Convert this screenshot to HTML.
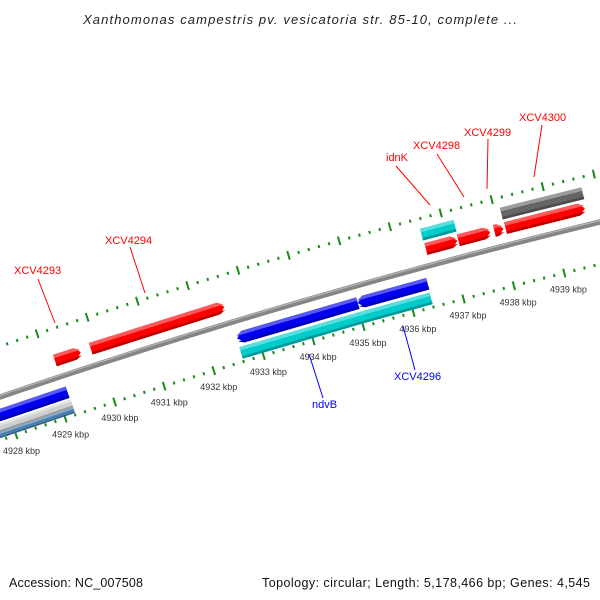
<!DOCTYPE html>
<html><head><meta charset="utf-8"><style>
html,body{margin:0;padding:0;background:#fff;}
svg{display:block;font-family:"Liberation Sans",sans-serif;}
</style></head><body>
<svg id="map" width="600" height="600" viewBox="0 0 600 600" xmlns="http://www.w3.org/2000/svg">
<text x="300" y="24" text-anchor="middle" font-size="13" font-style="italic" fill="#222" textLength="434">Xanthomonas campestris pv. vesicatoria str. 85-10, complete ...</text>
<g id="backbone"></g>
<g id="rulers"></g>
<g id="genes"></g>
<g id="labels"></g>
<text x="9" y="587" font-size="12.5" fill="#111" textLength="134">Accession: NC_007508</text>
<text x="262" y="587" font-size="12.5" fill="#111" textLength="328">Topology: circular; Length: 5,178,466 bp; Genes: 4,545</text>
</svg>
<script>
// ---- data ----
const geneNames  = ['XCV4293','XCV4294','idnK','XCV4298','XCV4299','XCV4300','cyan-f1','gray-f1','blue-r0','ndvB','XCV4296','cyan-r1','cyan-r2','lgray-r','steel-r'];
const geneStart  = [4929.16,4929.88,4936.55,4937.19,4937.90,4938.12,4936.54,4938.11,4927.50,4932.61,4935.02,4932.60,4935.03,4927.50,4927.50];
const geneEnd    = [4929.68,4932.55,4937.17,4937.82,4938.08,4939.68,4937.20,4939.71,4929.20,4935.02,4936.41,4935.03,4936.40,4929.21,4929.21];
const geneTrack  = [-17,-17,-17,-17,-17,-17,-32,-32,17,17,17,32,32,29,36];
const geneStrand = [1,1,1,1,1,1,0,0,-1,-1,-1,0,0,0,0];
const geneColor  = ['#ff0000','#ff0000','#ff0000','#ff0000','#ff0000','#ff0000','#00cccc','#666666','#0000ee','#0000ee','#0000ee','#00cccc','#00cccc','#cfcfcf','#4a80b0'];
const tickLabels = ['4928 kbp','4929 kbp','4930 kbp','4931 kbp','4932 kbp','4933 kbp','4934 kbp','4935 kbp','4936 kbp','4937 kbp','4938 kbp','4939 kbp'];
const tickValues = [4928,4929,4930,4931,4932,4933,4934,4935,4936,4937,4938,4939];

// ---- geometry: circle through backbone points ----
const NS='http://www.w3.org/2000/svg';
const A=[0,397],B=[300,302],Cc=[600,222];
function circum(a,b,c){
  const d=2*(a[0]*(b[1]-c[1])+b[0]*(c[1]-a[1])+c[0]*(a[1]-b[1]));
  const ux=((a[0]**2+a[1]**2)*(b[1]-c[1])+(b[0]**2+b[1]**2)*(c[1]-a[1])+(c[0]**2+c[1]**2)*(a[1]-b[1]))/d;
  const uy=((a[0]**2+a[1]**2)*(c[0]-b[0])+(b[0]**2+b[1]**2)*(a[0]-c[0])+(c[0]**2+c[1]**2)*(b[0]-a[0]))/d;
  return [ux,uy];
}
const C=circum(A,B,Cc);
const R=Math.hypot(B[0]-C[0],B[1]-C[1]);
const phiB=Math.atan2(B[1]-C[1],B[0]-C[0]);
const phiE=Math.atan2(Cc[1]-C[1],Cc[0]-C[0]);
const dir=Math.sign(phiE-phiB);
const pxPerKbp=52.3;
const phi0=phiB+dir*(2/R);
function P(k,t){const f=phi0+dir*(k-4934)*pxPerKbp/R;const r=R-t;return [C[0]+r*Math.cos(f),C[1]+r*Math.sin(f)];}
const kOfPx=px=>px/pxPerKbp;
function mk(tag,attrs,parent){const e=document.createElementNS(NS,tag);for(const k in attrs)e.setAttribute(k,attrs[k]);parent.appendChild(e);return e;}
function pts(arr){return arr.map(p=>p[0].toFixed(2)+','+p[1].toFixed(2)).join(' ');}
function arcPath(k1,k2,t){let d='';const n=40;for(let i=0;i<=n;i++){const p=P(k1+(k2-k1)*i/n,t);d+=(i?'L':'M')+p[0].toFixed(2)+' '+p[1].toFixed(2);}return d;}

// backbone
const bb=document.getElementById('backbone');
const bl=mk('path',{d:arcPath(4927,4941,0),stroke:'#858585','stroke-width':5.5,fill:'none'},bb);


const bh=mk('path',{d:arcPath(4927,4941,-1.5),stroke:'#b0b0b0','stroke-width':1.5,fill:'none'},bb);



// rulers
const rg=document.getElementById('rulers');
[-48,41].forEach(tr=>{
  for(let i=0;i<=70;i++){
    const k=4927+i*0.2;const major=Math.abs(k-Math.round(k))<1e-6;
    const L=major?4.5:1.5;
    const p1=P(k,tr-L),p2=P(k,tr+L);
    const ln=mk('line',{x1:p1[0],y1:p1[1],x2:p2[0],y2:p2[1],stroke:'#1a8a1a','stroke-width':2},rg);
    
    
  }
});
tickValues.forEach((k,i)=>{
  const p=P(k,58);
  const tx=mk('text',{x:p[0].toFixed(1),y:(p[1]+3).toFixed(1),'text-anchor':'middle','font-size':9,fill:'#333'},rg);
  tx.textContent=tickLabels[i];
  
  
});

// genes
const gg=document.getElementById('genes');
function shade(hex,f){const n=parseInt(hex.slice(1),16);let r=n>>16,g=(n>>8)&255,b=n&255;
  const m=c=>f>0?Math.round(c+(255-c)*f):Math.round(c*(1+f));
  return 'rgb('+m(r)+','+m(g)+','+m(b)+')';}
geneNames.forEach((nm,i)=>{
  const k1=geneStart[i],k2=geneEnd[i],t=geneTrack[i],st=geneStrand[i],col=geneColor[i];
  const h=(i>=13)?(i===13?8:6):12;
  const a=kOfPx(st?6:0);
  const poly=(ta,tb)=>{
    if(st===1)return [P(k1,ta),P(Math.max(k1,k2-a),ta),P(k2,Math.max(ta,Math.min(tb,t))),P(Math.max(k1,k2-a),tb),P(k1,tb)];
    if(st===-1)return [P(k2,ta),P(Math.min(k2,k1+a),ta),P(k1,Math.max(ta,Math.min(tb,t))),P(Math.min(k2,k1+a),tb),P(k2,tb)];
    return [P(k1,ta),P(k2,ta),P(k2,tb),P(k1,tb)];
  };
  const g=mk('g',{},gg);
  
  
  mk('polygon',{points:pts(poly(t-h/2,t+h/2)),fill:col},g);
  mk('polygon',{points:pts(poly(t-h/2,t-h/2+h*0.3)),fill:shade(col,0.35)},g);
  mk('polygon',{points:pts(poly(t+h/2-h*0.22,t+h/2)),fill:shade(col,-0.25)},g);
});

// labels
const labText=['XCV4293','XCV4294','idnK','XCV4298','XCV4299','XCV4300','ndvB','XCV4296'];
const labColor=['#ff0000','#ff0000','#ff0000','#ff0000','#ff0000','#ff0000','#0000ff','#0000ff'];
const labPos=[[14,274],[105,244],[386,161],[413,149],[464,136],[519,121],[312,408],[394,380]];
const labLine=[[38,279,55,323],[130,247,145,293],[396,166,430,205],[437,154,464,197],[488,139,487,189],[542,125,534,177],[323,398,309,354],[415,370,403,326]];
const lg=document.getElementById('labels');
labText.forEach((s,i)=>{
  const l=labLine[i];
  const ln=mk('line',{x1:l[0],y1:l[1],x2:l[2],y2:l[3],stroke:labColor[i],'stroke-width':1},lg);
  
  
  const tx=mk('text',{x:labPos[i][0],y:labPos[i][1],'font-size':11,fill:labColor[i]},lg);
  tx.textContent=s;
  
  
});
</script>
</body></html>
